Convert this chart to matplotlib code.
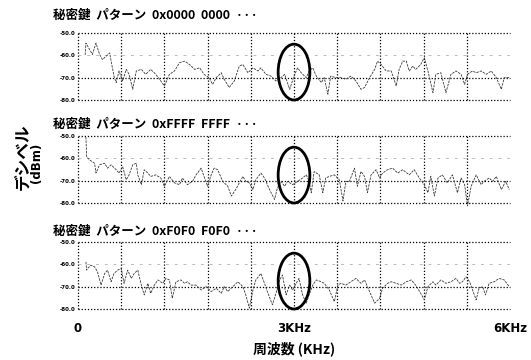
import matplotlib
matplotlib.use("Agg")
import matplotlib.pyplot as plt
from matplotlib.patches import Ellipse

plt.rcParams['font.family'] = ['Noto Sans CJK JP', 'DejaVu Sans']

titles = ["秘密鍵  パターン  0x0000  0000  ···",
          "秘密鍵  パターン  0xFFFF  FFFF  ···",
          "秘密鍵  パターン  0xF0F0  F0F0  ···"]

freq1 = [0.10, 0.11, 0.20, 0.25, 0.30, 0.34, 0.39, 0.44, 0.46, 0.50, 0.53, 0.57, 0.62, 0.67, 0.71, 0.76, 0.81, 0.88, 0.94, 1.01,
         1.08, 1.15, 1.20, 1.27, 1.34, 1.41, 1.48, 1.55, 1.62, 1.69, 1.75, 1.82, 1.87, 1.92, 1.99, 2.03, 2.10, 2.17, 2.24, 2.29,
         2.36, 2.43, 2.50, 2.54, 2.61, 2.68, 2.75, 2.82, 2.87, 2.94, 3.00, 3.05, 3.10, 3.17, 3.21, 3.26, 3.31, 3.38, 3.42, 3.47,
         3.51, 3.58, 3.65, 3.72, 3.79, 3.86, 3.93, 3.98, 4.05, 4.12, 4.16, 4.21, 4.28, 4.35, 4.42, 4.46, 4.51, 4.56, 4.60, 4.65,
         4.69, 4.76, 4.81, 4.86, 4.93, 4.97, 5.04, 5.11, 5.18, 5.25, 5.32, 5.37, 5.41, 5.48, 5.53, 5.60, 5.67, 5.74, 5.81, 5.88,
         5.92, 5.99]
level1 = [-59.8, -54.5, -59.6, -54.5, -59.6, -61.9, -60.4, -58.9, -62.6, -69.3, -72.2, -67.0, -71.5, -66.3, -68.5, -75.2, -67.0, -66.3, -68.5, -66.3,
          -68.5, -71.5, -73.7, -68.5, -67.0, -63.3, -62.6, -64.1, -66.3, -65.6, -68.5, -70.0, -73.0, -70.0, -67.8, -70.7, -74.4, -71.5, -64.8, -64.1,
          -67.8, -65.6, -67.0, -65.6, -68.5, -69.3, -71.5, -70.0, -68.5, -75.2, -69.3, -65.6, -67.8, -70.0, -67.0, -65.6, -69.3, -72.2, -70.0, -77.4,
          -69.3, -70.0, -70.0, -70.7, -69.3, -71.5, -75.2, -74.4, -70.0, -66.3, -62.6, -64.1, -67.0, -67.0, -73.7, -66.3, -62.6, -62.6, -67.0, -64.8,
          -66.3, -64.1, -61.1, -67.0, -76.7, -68.5, -67.8, -76.7, -68.5, -67.0, -68.5, -73.0, -68.5, -67.0, -67.8, -67.0, -68.5, -67.0, -70.0, -75.2,
          -70.0, -70.0]

freq2 = [0.11, 0.12, 0.16, 0.23, 0.25, 0.30, 0.37, 0.41, 0.46, 0.53, 0.57, 0.62, 0.67, 0.71, 0.76, 0.81, 0.83, 0.88, 0.92, 0.97,
         1.01, 1.08, 1.15, 1.20, 1.27, 1.34, 1.41, 1.45, 1.52, 1.59, 1.64, 1.71, 1.75, 1.80, 1.85, 1.89, 1.94, 2.01, 2.08, 2.13,
         2.19, 2.24, 2.29, 2.33, 2.38, 2.43, 2.47, 2.54, 2.59, 2.66, 2.73, 2.77, 2.82, 2.87, 2.91, 2.98, 3.05, 3.12, 3.17, 3.21,
         3.24, 3.28, 3.35, 3.40, 3.44, 3.49, 3.56, 3.63, 3.68, 3.72, 3.77, 3.84, 3.88, 3.93, 3.98, 4.02, 4.07, 4.14, 4.19, 4.23,
         4.30, 4.37, 4.44, 4.51, 4.60, 4.67, 4.74, 4.81, 4.86, 4.90, 4.95, 5.00, 5.06, 5.13, 5.20, 5.27, 5.32, 5.37, 5.41, 5.46,
         5.53, 5.60, 5.64, 5.71, 5.76, 5.81, 5.88, 5.94, 5.99]
level2 = [-50.4, -59.3, -60.7, -62.2, -66.6, -62.9, -62.2, -64.4, -62.9, -65.1, -66.6, -63.7, -69.6, -67.4, -62.9, -62.2, -67.4, -71.8, -65.1, -66.6,
          -68.1, -67.4, -68.8, -72.5, -68.1, -71.0, -71.8, -68.8, -71.8, -70.3, -67.4, -64.4, -68.1, -72.5, -67.4, -64.4, -65.1, -70.3, -72.5, -76.9,
          -74.0, -71.0, -68.1, -70.3, -71.0, -74.0, -69.6, -66.6, -68.8, -74.0, -78.4, -73.2, -70.3, -72.5, -70.3, -71.8, -70.3, -68.8, -67.4, -70.3,
          -75.4, -65.9, -67.4, -75.4, -68.8, -68.1, -67.4, -69.6, -79.1, -70.3, -70.3, -64.4, -72.5, -65.9, -68.1, -75.4, -67.4, -65.1, -68.8, -66.6,
          -65.1, -64.4, -66.6, -65.1, -67.4, -65.1, -68.8, -71.8, -75.4, -68.1, -76.9, -68.8, -67.4, -71.0, -67.4, -75.4, -68.8, -71.8, -81.3, -72.5,
          -67.4, -71.8, -70.3, -68.8, -70.3, -68.1, -74.0, -70.3, -74.0]

freq3 = [0.11, 0.12, 0.13, 0.18, 0.23, 0.27, 0.32, 0.37, 0.41, 0.46, 0.50, 0.55, 0.60, 0.64, 0.69, 0.74, 0.78, 0.83, 0.88, 0.92,
         0.97, 1.01, 1.06, 1.11, 1.18, 1.22, 1.27, 1.31, 1.36, 1.43, 1.48, 1.52, 1.57, 1.64, 1.71, 1.78, 1.85, 1.92, 1.99, 2.03,
         2.08, 2.15, 2.22, 2.29, 2.33, 2.38, 2.43, 2.47, 2.54, 2.59, 2.63, 2.70, 2.75, 2.80, 2.84, 2.89, 2.94, 2.98, 3.03, 3.07,
         3.12, 3.17, 3.21, 3.26, 3.31, 3.38, 3.42, 3.49, 3.56, 3.61, 3.65, 3.72, 3.79, 3.86, 3.93, 3.98, 4.05, 4.12, 4.19, 4.23,
         4.30, 4.35, 4.42, 4.49, 4.56, 4.63, 4.69, 4.76, 4.81, 4.86, 4.93, 4.97, 5.04, 5.11, 5.18, 5.25, 5.30, 5.34, 5.39, 5.44,
         5.48, 5.53, 5.57, 5.62, 5.66, 5.71, 5.78, 5.85, 5.92, 5.99]
level3 = [-58.9, -62.6, -61.9, -60.4, -61.1, -63.3, -69.3, -64.1, -62.6, -67.8, -64.1, -62.6, -61.9, -68.5, -62.6, -66.3, -64.1, -62.6, -69.3, -73.7,
          -68.5, -73.0, -69.3, -67.0, -68.5, -66.3, -67.0, -75.2, -67.8, -67.0, -68.5, -67.8, -69.3, -69.3, -71.5, -70.0, -72.2, -70.7, -73.0, -70.0,
          -72.2, -70.0, -67.8, -70.0, -73.7, -79.6, -71.5, -67.0, -64.1, -68.5, -72.2, -78.1, -73.0, -67.0, -64.8, -73.7, -69.3, -71.5, -68.5, -66.3,
          -73.7, -77.4, -73.7, -69.3, -67.0, -67.8, -68.5, -71.5, -76.7, -69.3, -68.5, -69.3, -67.8, -66.3, -68.5, -67.0, -72.2, -77.4, -75.2, -70.7,
          -68.5, -67.8, -68.5, -69.3, -67.8, -67.0, -69.3, -73.0, -75.9, -70.0, -67.8, -69.3, -67.0, -68.5, -67.8, -66.3, -68.5, -67.8, -65.6, -67.8,
          -71.5, -75.9, -70.7, -70.0, -73.7, -68.5, -67.8, -66.3, -67.0, -70.0]

y_ticks = [-50, -60, -70, -80]
y_ticklabels = ["-50.0", "-60.0", "-70.0", "-80.0"]
x_grid = [0.0, 0.6, 1.2, 1.8, 2.4, 3.0, 3.6, 4.2, 4.8, 5.4]
x_ticks = [0, 3, 6]
x_ticklabels = ["0", "3KHz", "6KHz"]
circle_center = (3.0, -67.5)
circle_size = (0.44, 25.0)

series = [(freq1, level1), (freq2, level2), (freq3, level3)]

W, H = 531, 360
fig = plt.figure(figsize=(W / 100, H / 100), dpi=100)
fig.patch.set_facecolor("white")

panel_px = [(33, 100), (136, 203), (242, 309)]
title_px = [15, 124, 231]
left_px, right_px = 78, 510

for i, ((f, lv), (top, bot)) in enumerate(zip(series, panel_px)):
    ax = fig.add_axes([left_px / W, 1 - bot / H, (right_px - left_px) / W, (bot - top) / H])
    ax.set_xlim(0, 6)
    ax.set_ylim(-80, -50)
    for s in ax.spines.values():
        s.set_visible(False)
    for xv in x_grid:
        ax.axvline(xv, color="black", lw=0.9, ls=(0, (1, 1.5)), zorder=1, clip_on=False)
    for yv in (-50, -70, -80):
        ax.axhline(yv, color="black", lw=0.9, ls=(0, (1, 1.5)), zorder=1, clip_on=False)
    ax.axhline(-60, color="#bbbbbb", lw=0.7, ls=(0, (3, 6)), zorder=1)
    ax.plot(f, lv, color="#3a3a3a", lw=0.6, ls=(0, (3, 1.2)), zorder=2, clip_on=False)
    ax.set_yticks(y_ticks)
    ax.set_yticklabels(y_ticklabels, fontsize=4, fontweight="bold", family=["DejaVu Sans"])
    ax.tick_params(axis="y", length=0, pad=2)
    if i == 2:
        ax.set_xticks(x_ticks)
        ax.set_xticklabels(x_ticklabels, fontsize=8.5, fontweight="bold", family=["DejaVu Sans"])
        ax.tick_params(axis="x", length=0, pad=9)
        ax.set_xlabel("周波数 (KHz)", fontsize=10, fontweight="bold", labelpad=5)
    else:
        ax.set_xticks([])
    ell = Ellipse(circle_center, circle_size[0], circle_size[1], fill=False,
                  edgecolor="black", lw=2.0, zorder=3, clip_on=False)
    ax.add_patch(ell)
    fig.text(53 / W, 1 - title_px[i] / H, titles[i], fontsize=9, fontweight="bold",
             ha="left", va="center")

fig.text(22 / W, 1 - 157 / H, "デシベル", rotation=90, fontsize=12, fontweight="bold",
         ha="center", va="center")
fig.text(36 / W, 1 - 163 / H, "(dBm)", rotation=90, fontsize=8.5, fontweight="bold",
         ha="center", va="center", family=["DejaVu Sans"])

fig.savefig("out.png", dpi=100, facecolor="white")
